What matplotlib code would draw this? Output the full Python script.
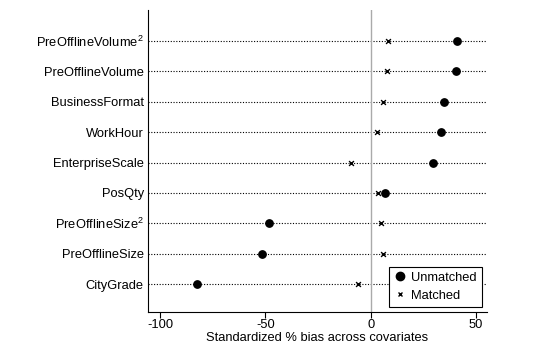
import numpy as np
import matplotlib
matplotlib.use("Agg")
import matplotlib.pyplot as plt
from matplotlib.lines import Line2D

plt.rcParams['font.family'] = ['Liberation Sans', 'DejaVu Sans']
plt.rcParams['mathtext.fontset'] = 'custom'
plt.rcParams['mathtext.rm'] = 'Liberation Sans'
plt.rcParams['mathtext.it'] = 'Liberation Sans'

# covariates from top to bottom
covariates = ['PreOfflineVolume$^2$', 'PreOfflineVolume', 'BusinessFormat', 'WorkHour',
              'EnterpriseScale', 'PosQty', 'PreOfflineSize$^2$', 'PreOfflineSize', 'CityGrade']
unmatched = [41.0, 40.5, 34.9, 33.5, 29.4, 6.7, -48.1, -51.6, -82.5]
matched = [8.1, 7.9, 6.0, 2.9, -9.5, 3.5, 4.8, 5.9, -6.0]
xticks = [-100, -50, 0, 50]

label_font = 9.3

fig = plt.figure(figsize=(5.34, 3.52), dpi=100)
ax = fig.add_axes([148/534, 40/352, (487-148)/534, (312-10)/352])

ypos = np.arange(len(covariates))[::-1] + 1
for y in ypos:
    ax.axhline(y, color='black', linestyle=(0, (1, 1.5)), linewidth=0.8, zorder=1)
ax.axvline(0, color='#aaaaaa', linewidth=1.0, zorder=1)

ax.scatter(unmatched, ypos, s=28, color='black', marker='o', zorder=3, label='Unmatched')
ax.scatter(matched, ypos, s=12, color='black', marker='x', linewidths=1.0, zorder=3, label='Matched')

ax.set_xlim(-105.7, 55.2)
ax.set_ylim(0.08, 10.02)
ax.set_yticks(ypos)
ax.set_yticklabels(covariates, fontsize=label_font)
ax.set_xticks(xticks)
ax.set_xticklabels(xticks, fontsize=label_font)
ax.tick_params(axis='y', length=0, pad=3)
ax.tick_params(axis='x', length=4, width=0.8, pad=1)
ax.spines['top'].set_visible(False)
ax.spines['right'].set_visible(False)
ax.set_xlabel('Standardized % bias across covariates', fontsize=label_font, labelpad=1)

handles = [Line2D([], [], marker='o', color='black', linestyle='none', markersize=6),
           Line2D([], [], marker='x', color='black', linestyle='none', markersize=3.5, markeredgewidth=1.0)]
leg = ax.legend(handles, ['Unmatched', 'Matched'], loc='lower right', fontsize=label_font,
                frameon=True, fancybox=False, edgecolor='black', framealpha=1,
                handlelength=0.8, handletextpad=0.5, borderpad=0.4, labelspacing=0.45,
                borderaxespad=0, bbox_to_anchor=(0.985, 0.017))
leg.get_frame().set_linewidth(0.8)

fig.savefig('out.png', dpi=100)
